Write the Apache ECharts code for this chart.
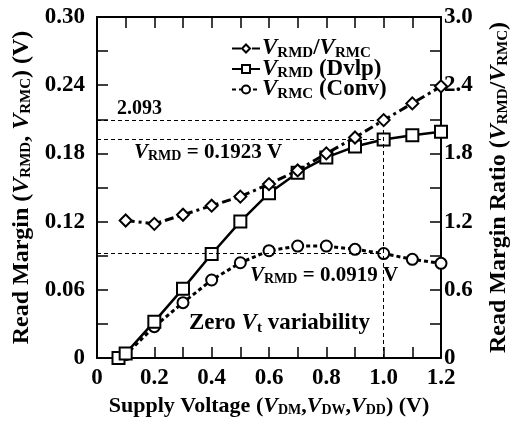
<!DOCTYPE html>
<html>
<head>
<meta charset="utf-8">
<script src="https://cdn.jsdelivr.net/npm/echarts@6/dist/echarts.min.js"></script>
<style>
  html, body { margin: 0; padding: 0; background: #fff; }
  #main { width: 512px; height: 423px; }
</style>
</head>
<body>
<div id="main"></div>
<script>
// supply voltage points (V)
var voltage = [0.075, 0.1, 0.2, 0.3, 0.4, 0.5, 0.6, 0.7, 0.8, 0.9, 1.0, 1.1, 1.2];
// read margin, developed cell (V)
var vrmdDvlp = [0, 0.004, 0.032, 0.061, 0.0915, 0.120, 0.145, 0.163, 0.1765, 0.186, 0.1923, 0.196, 0.199];
// read margin, conventional cell (V)
var vrmcConv = [0, 0.003, 0.0276, 0.0487, 0.0686, 0.0838, 0.0944, 0.0985, 0.0985, 0.0956, 0.0919, 0.0868, 0.0833];
// ratio VRMD/VRMC (no point at the lowest voltage)
var ratioVolt = [0.1, 0.2, 0.3, 0.4, 0.5, 0.6, 0.7, 0.8, 0.9, 1.0, 1.1, 1.2];
var ratio = [1.21, 1.18, 1.26, 1.34, 1.42, 1.53, 1.65, 1.80, 1.94, 2.093, 2.24, 2.39];

// guide lines at 1.0 V
var refVolt = 1.0;
var refRatioLeft = 0.2093;   // 2.093 drawn on left scale
var refDvlp = 0.1923;
var refConv = 0.0919;

var FONT = '"Liberation Serif", "Times New Roman", serif';

var myChart = echarts.init(document.getElementById('main'), null, { renderer: 'canvas' });

function pairs(xs, ys) {
    return xs.map(function (x, i) { return [x, ys[i]]; });
}

// rich text styles: i = italic V, s = subscript, n = normal
function richSet(size, sub) {
    return {
        i: { fontFamily: FONT, fontWeight: 'bold', fontStyle: 'italic', fontSize: size, color: '#000' },
        s: { fontFamily: FONT, fontWeight: 'bold', fontSize: sub, color: '#000', padding: [Math.round(size * 0.4), 0, 0, 0] },
        n: { fontFamily: FONT, fontWeight: 'bold', fontSize: size, color: '#000' }
    };
}

var legendNames = {
    ratio: '{i|V}{s|RMD}{n|/}{i|V}{s|RMC}',
    dvlp: '{i|V}{s|RMD}{n| (Dvlp)}',
    conv: '{i|V}{s|RMC}{n| (Conv)}'
};

function ticks() { return { show: true, inside: true, length: 11, lineStyle: { color: '#000', width: 1.5 } }; }
function minor() { return { show: true, splitNumber: 2, length: 11, lineStyle: { color: '#000', width: 1.5 } }; }
function axLine() { return { show: true, onZero: false, lineStyle: { color: '#000', width: 2 } }; }
var labelFont = { fontFamily: FONT, fontWeight: 'bold', fontSize: 23, color: '#000' };

option = {
    animation: false,
    backgroundColor: '#fff',
    grid: { left: 97, right: 71, top: 17, bottom: 65, outerBoundsMode: 'none', containLabel: false },
    legend: {
        orient: 'vertical',
        left: 226,
        top: 32,
        itemWidth: 28,
        itemHeight: 10,
        itemGap: -3,
        data: ['ratio', 'dvlp', 'conv'],
        formatter: function (name) { return legendNames[name]; },
        textStyle: { rich: richSet(23, 15), padding: [0, 0, 0, -3] }
    },
    xAxis: [{
        type: 'value',
        min: 0, max: 1.2, interval: 0.2,
        axisLine: axLine(),
        axisTick: ticks(),
        minorTick: minor(),
        splitLine: { show: false },
        axisLabel: Object.assign({ margin: 9, formatter: function (v) { return v === 0 ? '0' : v.toFixed(1); } }, labelFont),
        name: '{n|Supply Voltage (}{i|V}{s|DM}{n|,}{i|V}{s|DW}{n|,}{i|V}{s|DD}{n|) (V)}',
        nameLocation: 'middle',
        nameGap: 30,
        nameTextStyle: { rich: richSet(22, 14) }
    }, {
        type: 'value',
        position: 'top',
        min: 0, max: 1.2, interval: 0.2,
        axisLine: axLine(),
        axisTick: ticks(),
        minorTick: minor(),
        splitLine: { show: false },
        axisLabel: { show: false }
    }],
    yAxis: [{
        type: 'value',
        min: 0, max: 0.30, interval: 0.06,
        axisLine: axLine(),
        axisTick: ticks(),
        minorTick: minor(),
        splitLine: { show: false },
        axisLabel: Object.assign({ margin: 12, formatter: function (v) { return v === 0 ? '0' : v.toFixed(2); } }, labelFont),
        name: '{n|Read Margin (}{i|V}{s|RMD}{n|, }{i|V}{s|RMC}{n|) (V)}',
        nameLocation: 'middle',
        nameRotate: 90,
        nameGap: 60,
        nameTextStyle: { rich: richSet(24, 15) }
    }, {
        type: 'value',
        position: 'right',
        min: 0, max: 3.0, interval: 0.6,
        axisLine: axLine(),
        axisTick: ticks(),
        minorTick: minor(),
        splitLine: { show: false },
        axisLabel: Object.assign({ margin: 3, formatter: function (v) { return v === 0 ? '0' : v.toFixed(1); } }, labelFont),
        name: '{n|Read Margin Ratio (}{i|V}{s|RMD}{n|/}{i|V}{s|RMC}{n|)}',
        nameLocation: 'middle',
        nameRotate: 90,
        nameGap: 45,
        nameTextStyle: { rich: richSet(24, 15) }
    }],
    series: [{
        name: 'conv',
        type: 'line',
        xAxisIndex: 0, yAxisIndex: 0,
        data: pairs(voltage, vrmcConv),
        symbol: 'circle',
        symbolSize: 11,
        lineStyle: { color: '#000', width: 3, type: [4, 3] },
        itemStyle: { color: '#fff', borderColor: '#000', borderWidth: 2 },
        z: 3,
        markLine: {
            silent: true,
            symbol: 'none',
            label: { show: false },
            lineStyle: { color: '#000', width: 1, type: [4, 3] },
            data: [
                [{ coord: [0, refRatioLeft] }, { coord: [refVolt, refRatioLeft] }],
                [{ coord: [0, refDvlp] }, { coord: [refVolt, refDvlp] }],
                [{ coord: [0, refConv] }, { coord: [refVolt, refConv] }],
                [{ coord: [refVolt, 0] }, { coord: [refVolt, refRatioLeft] }]
            ]
        }
    }, {
        name: 'dvlp',
        type: 'line',
        xAxisIndex: 0, yAxisIndex: 0,
        data: pairs(voltage, vrmdDvlp),
        symbol: 'rect',
        symbolSize: 12,
        lineStyle: { color: '#000', width: 2.5, type: 'solid' },
        itemStyle: { color: '#fff', borderColor: '#000', borderWidth: 2 },
        z: 4
    }, {
        name: 'ratio',
        type: 'line',
        xAxisIndex: 0, yAxisIndex: 1,
        data: pairs(ratioVolt, ratio),
        symbol: 'diamond',
        symbolSize: 12,
        lineStyle: { color: '#000', width: 3, type: [9, 4, 3, 4] },
        itemStyle: { color: '#fff', borderColor: '#000', borderWidth: 2 },
        z: 5
    }],
    graphic: [{
        type: 'text', left: 117, top: 99,
        style: { text: '2.093', font: 'bold 20px ' + FONT, fill: '#000' }
    }, {
        type: 'text', left: 134, top: 142,
        style: { text: '{i|V}{s|RMD}{n| = 0.1923 V}', rich: richSet(21, 14) }
    }, {
        type: 'text', left: 250, top: 265,
        style: { text: '{i|V}{s|RMD}{n| = 0.0919 V}', rich: richSet(21, 14) }
    }, {
        type: 'text', left: 189, top: 312,
        style: { text: '{n|Zero }{i|V}{s|t}{n| variability}', rich: richSet(23, 15) }
    }]
};

myChart.setOption(option);
</script>
</body>
</html>
